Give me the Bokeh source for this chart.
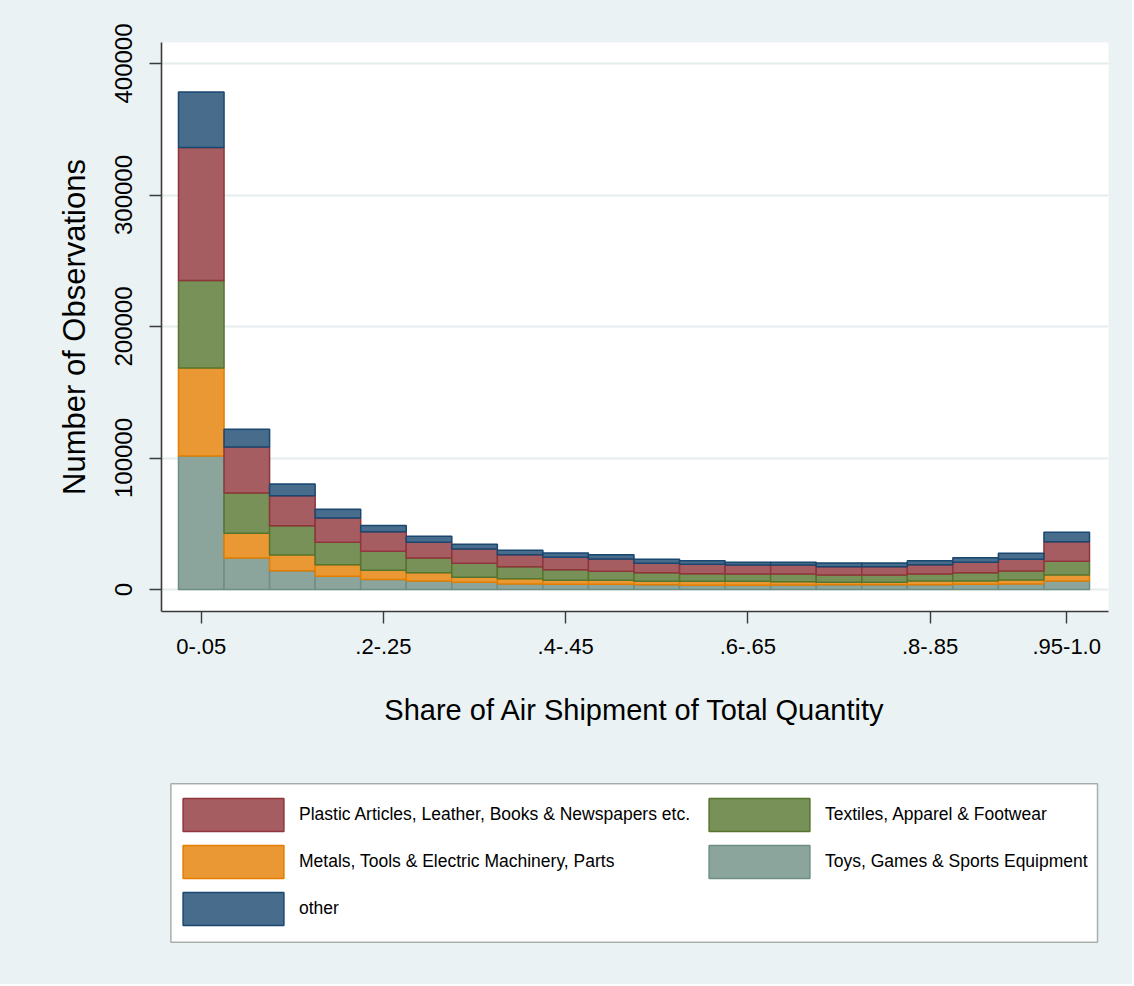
from bokeh.plotting import figure
from bokeh.models import (Legend, LegendItem, FixedTicker, Range1d, ColumnDataSource,
                          BoxAnnotation)
from bokeh.layouts import column
from bokeh.embed import file_html
from bokeh.resources import INLINE

# ---- data ----
bins = ["0-.05", ".05-.1", ".1-.15", ".15-.2", ".2-.25", ".25-.3", ".3-.35", ".35-.4",
        ".4-.45", ".45-.5", ".5-.55", ".55-.6", ".6-.65", ".65-.7", ".7-.75", ".75-.8",
        ".8-.85", ".85-.9", ".9-.95", ".95-1.0"]
toys = [101500, 23900, 14300, 10100, 7600, 6500, 5500, 4200, 4000, 4000,
        3700, 3200, 3200, 3500, 3700, 3700, 3700, 4000, 4200, 6500]
metals = [67000, 18900, 11900, 8700, 7000, 6200, 3800, 4000, 3000, 3000,
          2500, 3000, 3000, 2300, 1800, 1800, 2800, 2500, 3000, 4500]
textiles = [66400, 30600, 22200, 17200, 14400, 11200, 10600, 9100, 8100, 6800,
            6600, 5800, 5600, 6000, 5500, 5500, 5300, 6300, 6900, 10400]
plastic = [101200, 34900, 22800, 18300, 14900, 12100, 10900, 9200, 9400, 9400,
           7100, 7200, 6800, 6800, 6300, 6300, 7100, 7900, 8900, 15000]
other = [42200, 13500, 9000, 6700, 4800, 4500, 3600, 3300, 3300, 3300,
         3100, 2700, 2100, 2100, 2900, 2900, 3000, 3500, 4500, 7100]
labeled_bins = [0, 4, 8, 12, 16, 19]
y_ticks = [0, 100000, 200000, 300000, 400000]

series_names = ["Toys, Games & Sports Equipment",
                "Metals, Tools & Electric Machinery, Parts",
                "Textiles, Apparel & Footwear",
                "Plastic Articles, Leather, Books & Newspapers etc.",
                "other"]
fills = ["#8BA59D", "#E99833", "#779159", "#A65D62", "#486C8C"]
lines = ["#6E8E84", "#E37E00", "#55752F", "#90353B", "#1A476F"]

BG = "#EAF2F3"
FONT = "Liberation Sans"
W = 1132
H1 = 760
H2 = 224
FRAME_L, FRAME_R, FRAME_T, FRAME_B = 161, 1108, 42, 611

src = ColumnDataSource(dict(x=list(range(len(bins))), toys=toys, metals=metals,
                            textiles=textiles, plastic=plastic, other=other))
keys = ["toys", "metals", "textiles", "plastic", "other"]

# ---------------- main chart ----------------
p = figure(width=W, height=H1, output_backend="svg", toolbar_location=None,
           x_range=Range1d(-0.873, 19.917), y_range=Range1d(-16730, 415970),
           min_border_left=FRAME_L, min_border_right=W - FRAME_R,
           min_border_top=FRAME_T, min_border_bottom=H1 - FRAME_B)
p.background_fill_color = "white"
p.border_fill_color = BG
p.outline_line_color = None

rs = p.vbar_stack(keys, x="x", width=1.0, source=src, fill_color=fills,
                  line_color=lines, line_width=1.5)

for ax in (p.xaxis, p.yaxis):
    ax.axis_line_color = "#3a3a3a"
    ax.axis_line_width = 1.6
    ax.major_tick_line_color = "#3a3a3a"
    ax.major_tick_line_width = 1.4
    ax.major_tick_out = 12
    ax.major_tick_in = 0
    ax.minor_tick_line_color = None
    ax.major_label_text_color = "black"
    ax.axis_label_text_color = "black"
    ax.axis_label_text_font_style = "normal"

p.xaxis.ticker = FixedTicker(ticks=labeled_bins)
p.xaxis.major_label_overrides = {i: bins[i] for i in labeled_bins}
p.xaxis.major_label_text_font = FONT
p.xaxis.major_label_text_font_size = "22px"
p.xaxis.major_label_standoff = 15
p.xaxis.axis_label = "Share of Air Shipment of Total Quantity"
p.xaxis.axis_label_text_font = FONT
p.xaxis.axis_label_text_font_size = "29px"
p.xaxis.axis_label_standoff = 37

p.yaxis.ticker = FixedTicker(ticks=y_ticks)
p.yaxis.formatter.use_scientific = False
p.yaxis.major_label_orientation = "vertical"
p.yaxis.major_label_text_font = FONT
p.yaxis.major_label_text_font_size = "24px"
p.yaxis.major_label_standoff = 17
p.yaxis.axis_label = "Number of Observations"
p.yaxis.axis_label_text_font = FONT
p.yaxis.axis_label_text_font_size = "31px"
p.yaxis.axis_label_standoff = 21

p.xgrid.visible = False
p.ygrid.grid_line_color = "#E4ECEE"
p.ygrid.grid_line_width = 2

# ---------------- legend panel (page-pixel coordinates) ----------------
q = figure(width=W, height=H2, output_backend="svg", toolbar_location=None,
           x_axis_type=None, y_axis_type=None,
           x_range=Range1d(FRAME_L, FRAME_R), y_range=Range1d(H1 + H2, H1),
           min_border=0)
q.background_fill_color = BG
q.border_fill_color = BG
q.outline_line_color = None
q.grid.visible = False
qs = q.vbar_stack(keys, x="x", width=1.0, source=src, fill_color=fills,
                  line_color=lines, line_width=1.5)
for r in qs:
    r.visible = False

q.add_layout(BoxAnnotation(left=170.4, right=1097, top=783.3, bottom=941.7,
                           fill_color="white", fill_alpha=1.0,
                           line_color="black", line_width=1.5))

legend = Legend(
    items=[LegendItem(label=series_names[3], renderers=[qs[3]]),
           LegendItem(label=series_names[2], renderers=[qs[2]]),
           LegendItem(label=series_names[1], renderers=[qs[1]]),
           LegendItem(label=series_names[0], renderers=[qs[0]]),
           LegendItem(label=series_names[4], renderers=[qs[4]])],
    orientation="horizontal", ncols=2,
    location=(9, 55), margin=0, padding=0, spacing=6,
    glyph_width=126, glyph_height=41, label_standoff=3, label_height=41,
    label_text_font=FONT, label_text_font_size="17.5px", label_text_color="black",
    border_line_color=None, background_fill_alpha=0.0, inactive_fill_alpha=0.0)
q.add_layout(legend)

page = column(p, q, spacing=0, styles={"background-color": BG})
open("out.html", "w").write(file_html(page, INLINE))
